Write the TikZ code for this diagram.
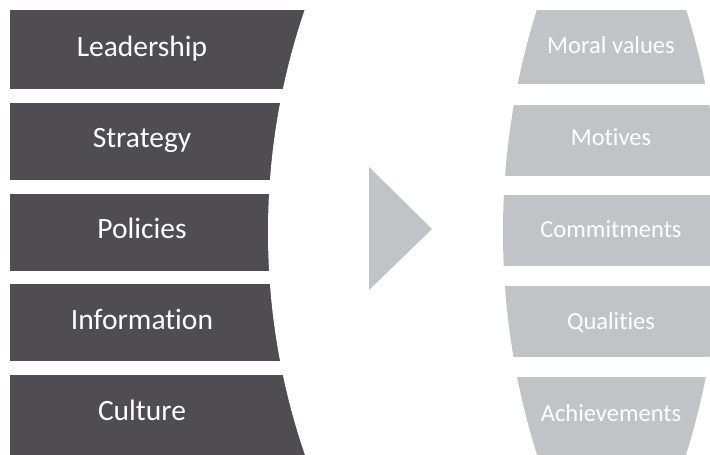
\documentclass[tikz,border=0pt]{standalone}
\usepackage{fontspec}
\setmainfont{Carlito}[Ligatures={NoCommon,NoContextual}]
\usepackage{tikz}
\usetikzlibrary{positioning}

\definecolor{darkbox}{HTML}{4F4D52}
\definecolor{lightbox}{HTML}{C1C4C7}

\begin{document}
\begin{tikzpicture}[x=1pt,y=-1pt,
        lefttext/.style={text=white,anchor=base,font=\fontsize{29.5}{30}\selectfont},
        righttext/.style={text=white,anchor=base,font=\fontsize{24.5}{25}\selectfont}]
                \useasboundingbox[fill=white] (0,0) rectangle (710,455);
                % left column, cut by the arc
                \foreach \t/\b in {9.5/89,103/180,194/271,284/361,375/455}
                    \fill[darkbox] (10,\t) rectangle (320,\b);
                \fill[white] (955.5,232) circle (687.5pt);
                % right column, a barrel
                \begin{scope}
                    \clip (1244.8,232) circle (741.8pt);
                    \clip (-21.8,232) circle (741.8pt);
                    \foreach \t/\b in {10/84,105/176,195/266,286/357,377/455}
                        \fill[lightbox] (490,\t) rectangle (730,\b);
                \end{scope}
                \fill[lightbox] (369,167) -- (432,229) -- (369,290) -- cycle;
                % labels
                \node[lefttext] (leadership) at (142,56.7) {Leadership};
                \node[lefttext] (strategy) at (142,147.7) {Strategy};
                \node[lefttext] (policies) at (142,238.7) {Policies};
                \node[lefttext] (information) at (142,329.7) {Information};
                \node[lefttext] (culture) at (142,420.7) {Culture};
                \node[righttext] (moral) at (611,53.3) {Moral values};
                \node[righttext] (motives) at (611,145.2) {Motives};
                \node[righttext] (commitments) at (611,237.1) {Commitments};
                \node[righttext] (qualities) at (611,329) {Qualities};
                \node[righttext] (achievements) at (611,421) {Achievements};
            \end{tikzpicture}
\end{document}
